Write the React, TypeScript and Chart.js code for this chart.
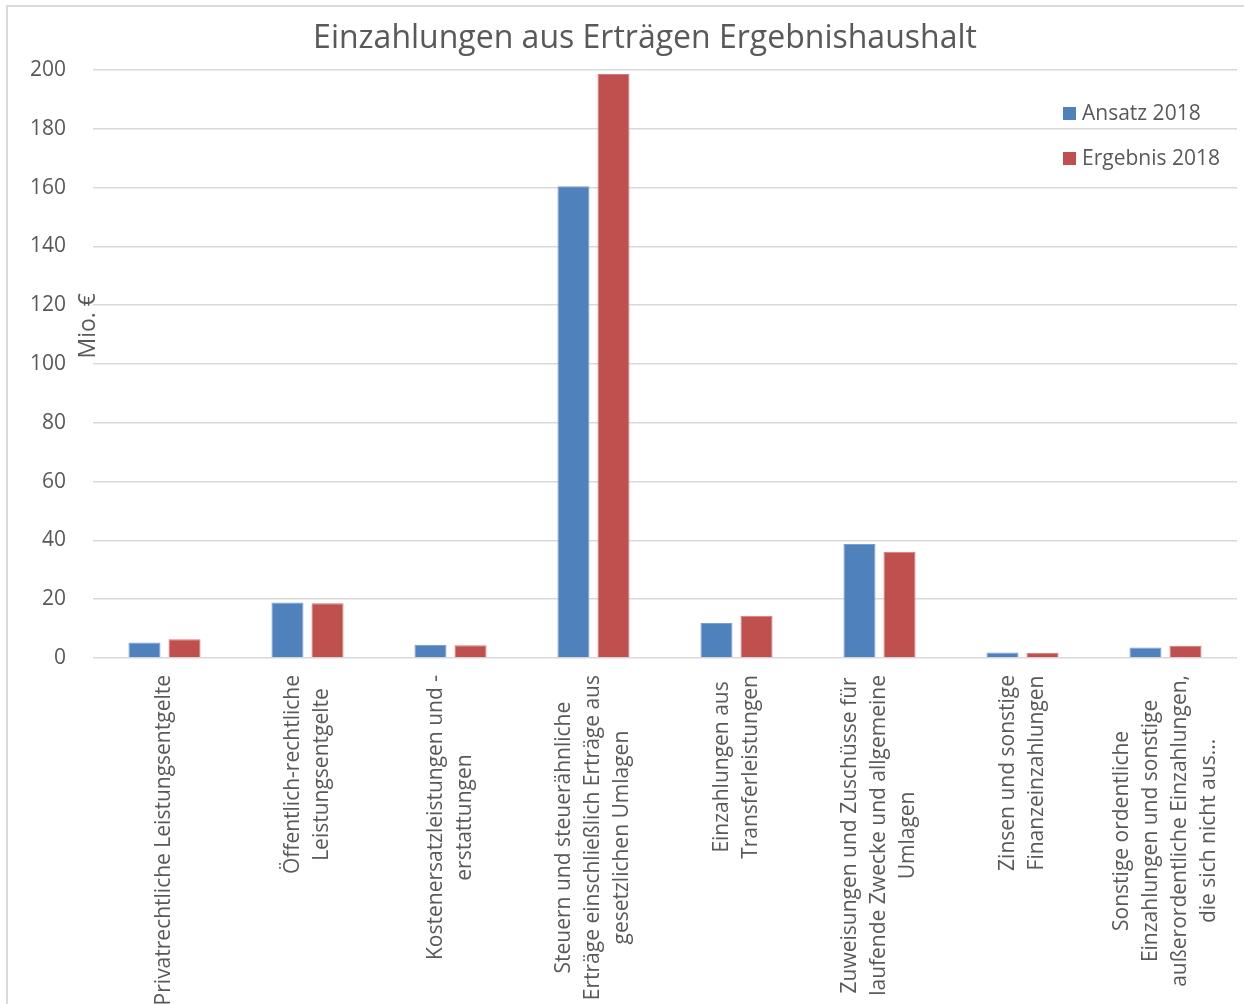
import React, { useEffect, useRef } from "react";
import { Chart, registerables } from "chart.js";

Chart.register(...registerables);

const FONT = '"Open Sans", "DejaVu Sans", sans-serif';
const TEXT_COLOR = "#595959";

const chartTitle = "Einzahlungen aus Erträgen Ergebnishaushalt";
const yAxisTitle = "Mio. €";

const categories: string[][] = [
  ["Privatrechtliche Leistungsentgelte"],
  ["Öffentlich-rechtliche", "Leistungsentgelte"],
  ["Kostenersatzleistungen und -", "erstattungen"],
  ["Steuern und steuerähnliche", "Erträge einschließlich Erträge aus", "gesetzlichen Umlagen"],
  ["Einzahlungen aus", "Transferleistungen"],
  ["Zuweisungen und Zuschüsse für", "laufende Zwecke und allgemeine", "Umlagen"],
  ["Zinsen und sonstige", "Finanzeinzahlungen"],
  ["Sonstige ordentliche", "Einzahlungen und sonstige", "außerordentliche Einzahlungen,", "die sich nicht aus..."],
];

const seriesNames = ["Ansatz 2018", "Ergebnis 2018"];
const ansatz2018 = [5.3, 18.9, 4.4, 160.5, 11.9, 38.8, 1.9, 3.6];
const ergebnis2018 = [6.4, 18.6, 4.3, 198.6, 14.4, 36.1, 1.8, 4.2];
const seriesColors = ["#4F81BD", "#C0504D"];
const seriesBorders = ["#7A9FCF", "#D27B78"];

const yMin = 0;
const yMax = 200;
const yStep = 20;

const LINE_H = 29;
const LABEL_SIZE = 21;

const overlayPlugin = {
  id: "overlay",
  afterDraw(chart: any) {
    const ctx: CanvasRenderingContext2D = chart.ctx;
    const xs = chart.scales.x;
    const ys = chart.scales.y;
    const area = chart.chartArea;
    ctx.save();

    // title
    ctx.fillStyle = TEXT_COLOR;
    ctx.font = `32px ${FONT}`;
    ctx.textAlign = "center";
    ctx.textBaseline = "middle";
    ctx.fillText(chartTitle, chart.width / 2 + 23, 39);

    ctx.font = `${LABEL_SIZE}px ${FONT}`;

    // category labels, rotated, centered lines
    categories.forEach((lines, i) => {
      const cx = xs.getPixelForValue(i);
      const maxW = Math.max(...lines.map((l) => ctx.measureText(l).width));
      const top = area.bottom + 17;
      lines.forEach((line, j) => {
        const x = cx + (j - (lines.length - 1) / 2) * LINE_H;
        ctx.save();
        ctx.translate(x, top + maxW / 2);
        ctx.rotate(-Math.PI / 2);
        ctx.textAlign = "center";
        ctx.textBaseline = "middle";
        ctx.fillText(line, 0, 0);
        ctx.restore();
      });
    });

    // y axis title
    ctx.save();
    ctx.font = `23px ${FONT}`;
    ctx.translate(area.left - 5, ys.getPixelForValue(113));
    ctx.rotate(-Math.PI / 2);
    ctx.textAlign = "center";
    ctx.textBaseline = "middle";
    ctx.fillText(yAxisTitle, 0, 0);
    ctx.restore();

    // legend
    const lx = area.right - 174;
    chart.data.datasets.forEach((ds: any, i: number) => {
      const cy = area.top + 43 + i * 45;
      ctx.fillStyle = ds.backgroundColor;
      ctx.fillRect(lx, cy - 6, 13, 13);
      ctx.fillStyle = TEXT_COLOR;
      ctx.textAlign = "left";
      ctx.textBaseline = "middle";
      ctx.fillText(ds.label, lx + 19, cy + 1);
    });
    ctx.restore();
  },
};

export default function App() {
  const ref = useRef<HTMLCanvasElement | null>(null);

  useEffect(() => {
    if (!ref.current) return;
    const chart = new Chart(ref.current, {
      type: "bar",
      data: {
        labels: categories,
        datasets: [
          {
            label: seriesNames[0],
            data: ansatz2018,
            backgroundColor: seriesColors[0],
            borderColor: seriesBorders[0],
            borderWidth: 1,
            categoryPercentage: 0.56,
            barPercentage: 0.8,
          },
          {
            label: seriesNames[1],
            data: ergebnis2018,
            backgroundColor: seriesColors[1],
            borderColor: seriesBorders[1],
            borderWidth: 1,
            categoryPercentage: 0.56,
            barPercentage: 0.8,
          },
        ],
      },
      options: {
        responsive: false,
        animation: false,
        layout: { padding: { left: 0, right: 7, top: 70, bottom: 0 } },
        plugins: {
          legend: { display: false },
          tooltip: { enabled: false },
          title: { display: false },
        },
        scales: {
          x: {
            grid: { display: false },
            border: { display: false },
            ticks: { display: false },
            afterFit: (s: any) => {
              s.height = 346;
            },
          },
          y: {
            min: yMin,
            max: yMax,
            ticks: {
              stepSize: yStep,
              color: TEXT_COLOR,
              font: { size: LABEL_SIZE, family: FONT },
              padding: 27,
            },
            grid: { color: "#d9d9d9", lineWidth: 1.5, drawTicks: false },
            border: { display: false },
            afterFit: (s: any) => {
              s.width = 93;
            },
          },
        },
      },
      plugins: [overlayPlugin],
    });
    return () => chart.destroy();
  }, []);

  return (
    <div style={{ position: "absolute", left: 0, top: 0, width: 1244, height: 1004, overflow: "hidden", background: "#fff" }}>
      <div
        style={{
          position: "absolute",
          left: 6,
          top: 5,
          width: 1238,
          height: 999,
          borderLeft: "2px solid #d9d9d9",
          borderTop: "2px solid #d9d9d9",
          boxSizing: "border-box",
        }}
      />
      <canvas ref={ref} width={1244} height={1004} style={{ position: "absolute", left: 0, top: 0, display: "block" }} />
    </div>
  );
}
